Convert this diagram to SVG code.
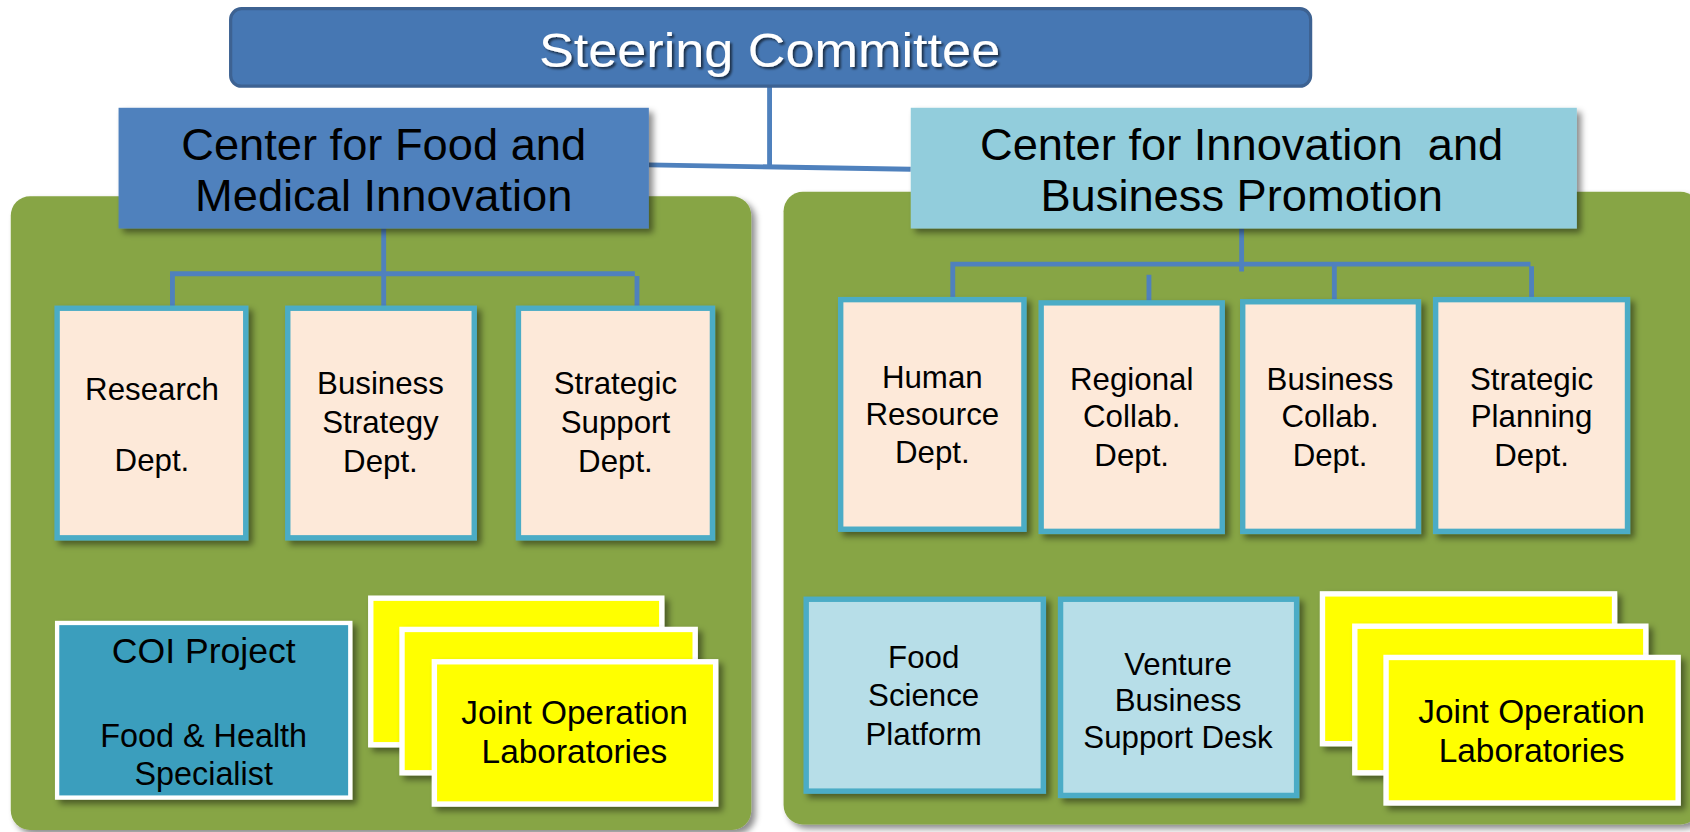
<svg xmlns="http://www.w3.org/2000/svg" width="1690" height="832" viewBox="0 0 1690 832">
<defs>
<filter id="sh" x="-10%" y="-10%" width="130%" height="130%">
<feDropShadow dx="4" dy="4" stdDeviation="3" flood-color="#000" flood-opacity="0.45"/>
</filter>
<filter id="tsh" x="-5%" y="-20%" width="110%" height="150%">
<feDropShadow dx="2" dy="2" stdDeviation="1" flood-color="#000" flood-opacity="0.6"/>
</filter>
<style>
text{font-family:"Liberation Sans","DejaVu Sans",Arial,sans-serif;text-anchor:middle;fill:#000}
.panel{fill:#87a544}
.hdr{font-size:42px}
.dept{fill:#fde9d9;stroke:#4bacc6;stroke-width:5}
.lb{fill:#b7dee8;stroke:#4bacc6;stroke-width:5}
.yel{fill:#ffff00;stroke:#ffffff;stroke-width:5}
.t{font-size:29px}
.ty{font-size:31px}
.con{fill:none;stroke:#4f81bd;stroke-width:4.5}
</style>
</defs>
<rect width="1690" height="832" fill="#ffffff"/>
<g transform="scale(1.07781)">
<g id="panel-left"><rect class="panel" x="10" y="182" width="687" height="588" rx="18" filter="url(#sh)"/></g>
<g id="panel-right"><rect class="panel" x="727" y="178" width="850" height="587" rx="18" filter="url(#sh)"/></g>

<g id="connectors">
<path class="con" d="M714 80 V155"/>
<path class="con" d="M602 153 L845 157"/>
<path class="con" d="M356 212 V288 M160 288 V254 H589 M591 256 V288"/>
<path class="con" d="M1152 212 V252 M884 277 V245 H1420 M1421 247 V277 M1066 255 V281 M1238 245 V280"/>
</g>

<g id="steering">
<rect x="214" y="8" width="1002" height="72" rx="10" fill="#4677b3" stroke="#3d6292" stroke-width="3"/>
<text x="714" y="62" font-size="44" textLength="428" lengthAdjust="spacingAndGlyphs" style="fill:#ffffff" filter="url(#tsh)">Steering Committee</text>
</g>

<g id="center-food">
<rect x="110" y="100" width="492" height="112" fill="#4f81bd" filter="url(#sh)"/>
<text class="hdr" x="356" y="148">Center for Food and</text>
<text class="hdr" x="356" y="196">Medical Innovation</text>
</g>

<g id="center-innovation">
<rect x="845" y="100" width="618" height="112" fill="#92cddc" filter="url(#sh)"/>
<text class="hdr" x="1152" y="148" xml:space="preserve">Center for Innovation  and</text>
<text class="hdr" x="1152" y="196">Business Promotion</text>
</g>

<g id="research">
<rect class="dept" x="53" y="286" width="175" height="213" filter="url(#sh)"/>
<text class="t" x="141" y="371">Research</text>
<text class="t" x="141" y="437">Dept.</text>
</g>
<g id="business-strategy">
<rect class="dept" x="267" y="286" width="173" height="213" filter="url(#sh)"/>
<text class="t" x="353" y="366">Business</text>
<text class="t" x="353" y="402">Strategy</text>
<text class="t" x="353" y="438">Dept.</text>
</g>
<g id="strategic-support">
<rect class="dept" x="481" y="286" width="180" height="213" filter="url(#sh)"/>
<text class="t" x="571" y="366">Strategic</text>
<text class="t" x="571" y="402">Support</text>
<text class="t" x="571" y="438">Dept.</text>
</g>

<g id="human-resource">
<rect class="dept" x="780" y="278" width="170" height="213" filter="url(#sh)"/>
<text class="t" x="865" y="360">Human</text>
<text class="t" x="865" y="394">Resource</text>
<text class="t" x="865" y="430">Dept.</text>
</g>
<g id="regional-collab">
<rect class="dept" x="966" y="281" width="168" height="212" filter="url(#sh)"/>
<text class="t" x="1050" y="362">Regional</text>
<text class="t" x="1050" y="396">Collab.</text>
<text class="t" x="1050" y="432">Dept.</text>
</g>
<g id="business-collab">
<rect class="dept" x="1153" y="280" width="163" height="213" filter="url(#sh)"/>
<text class="t" x="1234" y="362">Business</text>
<text class="t" x="1234" y="396">Collab.</text>
<text class="t" x="1234" y="432">Dept.</text>
</g>
<g id="strategic-planning">
<rect class="dept" x="1332" y="278" width="178" height="215" filter="url(#sh)"/>
<text class="t" x="1421" y="362">Strategic</text>
<text class="t" x="1421" y="396">Planning</text>
<text class="t" x="1421" y="432">Dept.</text>
</g>

<g id="coi-project">
<rect x="53" y="578" width="272" height="162" fill="#3a9ebd" stroke="#ffffff" stroke-width="4" filter="url(#sh)"/>
<text x="189" y="615" font-size="33">COI Project</text>
<text x="189" y="693" font-size="30">Food &amp; Health</text>
<text x="189" y="728" font-size="30">Specialist</text>
</g>

<g id="jol-left">
<rect class="yel" x="344" y="555" width="270" height="136" filter="url(#sh)"/>
<rect class="yel" x="373" y="584" width="272" height="133" filter="url(#sh)"/>
<rect class="yel" x="403" y="614" width="261" height="132" filter="url(#sh)"/>
<text class="ty" x="533" y="672">Joint Operation</text>
<text class="ty" x="533" y="708">Laboratories</text>
</g>

<g id="food-science">
<rect class="lb" x="748" y="556" width="220" height="178" filter="url(#sh)"/>
<text class="t" x="857" y="620">Food</text>
<text class="t" x="857" y="655">Science</text>
<text class="t" x="857" y="691">Platform</text>
</g>
<g id="venture">
<rect class="lb" x="984" y="556" width="219" height="182" filter="url(#sh)"/>
<text class="t" x="1093" y="626">Venture</text>
<text class="t" x="1093" y="660">Business</text>
<text class="t" x="1093" y="694">Support Desk</text>
</g>

<g id="jol-right">
<rect class="yel" x="1227" y="551" width="271" height="139" filter="url(#sh)"/>
<rect class="yel" x="1257" y="581" width="270" height="136" filter="url(#sh)"/>
<rect class="yel" x="1286" y="610" width="271" height="135" filter="url(#sh)"/>
<text class="ty" x="1421" y="671">Joint Operation</text>
<text class="ty" x="1421" y="707">Laboratories</text>
</g>
</g>
</svg>
